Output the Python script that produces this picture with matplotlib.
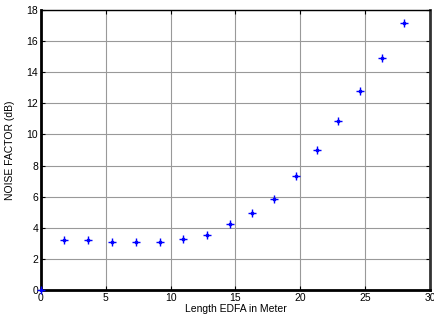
import numpy as np
import matplotlib.pyplot as plt

length = [0, 1.8, 3.6, 5.5, 7.3, 9.2, 10.95, 12.8, 14.6, 16.3, 18.0, 19.7,
          21.3, 22.9, 24.6, 26.3, 28.0]
noise = [0, 3.2, 3.2, 3.1, 3.1, 3.1, 3.3, 3.55, 4.25, 4.95, 5.85, 7.3,
         9.0, 10.85, 12.8, 14.9, 17.15]

plt.rcParams['font.family'] = ['Liberation Sans', 'DejaVu Sans']

fig = plt.figure(figsize=(4.34, 3.2), dpi=100)
ax = fig.add_axes([41 / 434, 1 - 290 / 320, 389 / 434, 280 / 320])

ax.plot(length, noise, linestyle='none', marker='+', color='blue',
        markersize=6, markeredgewidth=1, clip_on=False, zorder=5)
ax.plot(length, noise, linestyle='none', marker='.', color='blue',
        markersize=3.5, clip_on=False, zorder=5)

ax.set_xlim(0, 30)
ax.set_ylim(0, 18)
ax.set_xticks(np.arange(0, 31, 5))
ax.set_yticks(np.arange(0, 19, 2))
ax.grid(True, color='#999999', linewidth=0.8)
ax.set_axisbelow(True)
ax.tick_params(direction='in', length=3, labelsize=7.5, top=True, right=True,
               pad=2)

ax.spines['left'].set_linewidth(2)
ax.spines['bottom'].set_linewidth(2)
ax.spines['right'].set_linewidth(2)
ax.spines['right'].set_color('#333333')
ax.spines['top'].set_linewidth(1)

ax.set_xlabel('Length EDFA in Meter', fontsize=7.5, labelpad=1)
ax.set_ylabel('NOISE FACTOR (dB)', fontsize=7.5, labelpad=8)

fig.savefig('out.png', dpi=100)
